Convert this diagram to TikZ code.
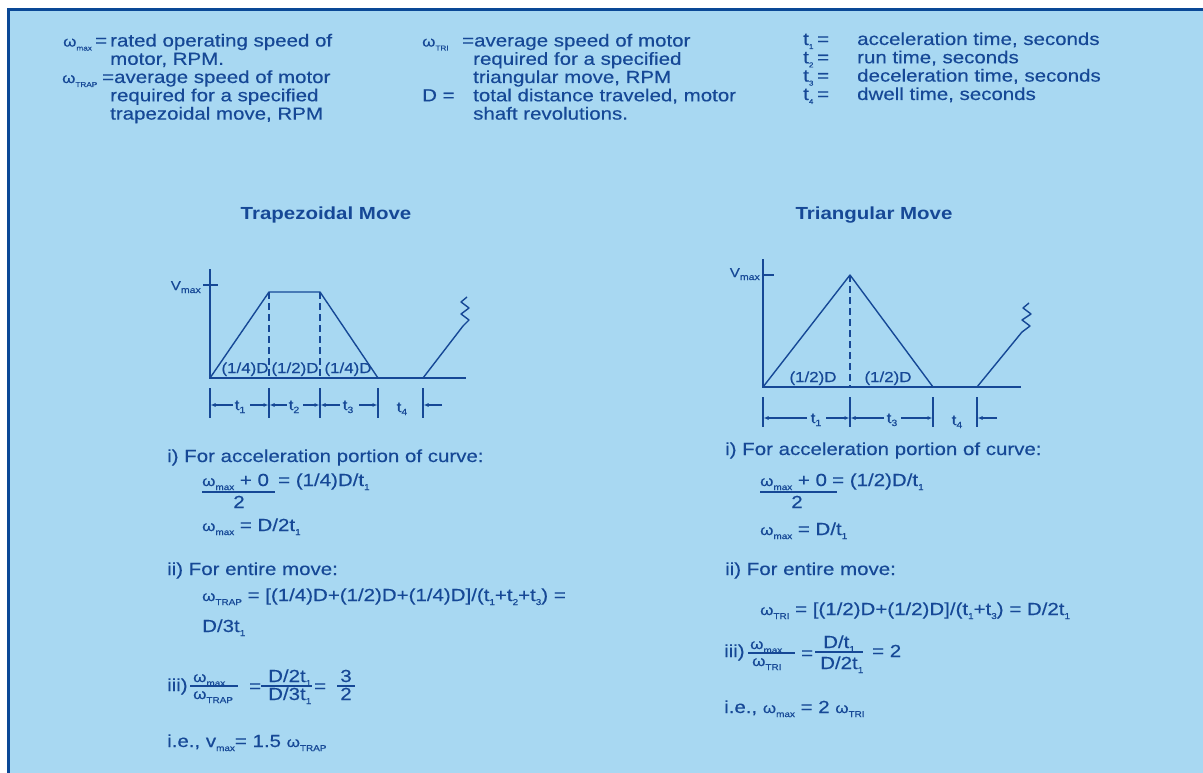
\documentclass[tikz,border=0pt]{standalone}
\usepackage{fontspec}
\setmainfont{Liberation Sans}[FakeStretch=1.17,UprightFeatures={FakeBold=0.35}]
\usetikzlibrary{arrows.meta}
\definecolor{bg}{RGB}{168,216,242}
\definecolor{ink}{RGB}{22,72,150}
\definecolor{frame}{RGB}{10,72,150}
\newcommand\bodyfont{\fontsize{17.5}{18.3}\selectfont}
\newcommand\gfont{\fontsize{14.5}{14.5}\selectfont}
\newcommand\om{{\fontsize{14.5}{14.5}\selectfont ω}}
\newcommand\sbs[1]{\raisebox{-4pt}{\fontsize{8.5}{8.5}\selectfont #1}}
\newcommand\lsb[1]{\raisebox{-4pt}{\fontsize{7}{7}\selectfont #1}}
\newcommand\gsb[1]{\raisebox{-3pt}{\fontsize{9}{9}\selectfont #1}}
\begin{document}
\begin{tikzpicture}[x=1pt,y=-1pt,
  txt/.style={anchor=base west,inner sep=0pt,text=ink,font=\bodyfont},
  ctxt/.style={anchor=base,inner sep=0pt,text=ink,font=\bodyfont},
  head/.style={anchor=base,inner sep=0pt,text=ink,font=\bodyfont\bfseries},
  glab/.style={anchor=base,inner sep=0pt,text=ink,font=\gfont},
  axisline/.style={draw=ink,line width=1.6pt},
  baseline/.style={draw=ink,line width=2.4pt},
  curve/.style={draw=ink,line width=1.4pt,line join=round},
  dashv/.style={draw=ink,line width=1.1pt,dash pattern=on 7pt off 4pt},
  extline/.style={draw=ink,line width=1.1pt},
  dimarr/.style={draw=ink,line width=1.1pt,-{Latex[length=5pt,width=4pt]}},
  fbar/.style={draw=ink,line width=1.1pt}]
\useasboundingbox (0,0) rectangle (1203,773);
\fill[white] (0,0) rectangle (1203,773);
\fill[bg] (9,10) rectangle (1203,773);
\draw[frame,line width=3.5pt] (8.5,773) -- (8.5,9.5) -- (1203,9.5);

% ---------- legend ----------
\node[txt] (wmax) at (63,46.5) {\om\lsb{max}};
\node[txt] (eqa) at (95,46.5) {=};
\node[txt] (la1) at (110,46.5) {rated operating speed of};
\node[txt] (la2) at (110,64.8) {motor, RPM.};
\node[txt] (wtrap) at (62,83) {\om\lsb{TRAP}};
\node[txt] (la3) at (102,83) {=average speed of motor};
\node[txt] (la4) at (110,101.3) {required for a specified};
\node[txt] (la5) at (110,119.6) {trapezoidal move, RPM};

\node[txt] (wtri) at (422,46.5) {\om\lsb{TRI}};
\node[txt] (lb1) at (462,46.5) {=average speed of motor};
\node[txt] (lb2) at (473,64.8) {required for a specified};
\node[txt] (lb3) at (473,83) {triangular move, RPM};
\node[txt] (dD) at (422,101.3) {D =};
\node[txt] (lb4) at (473,101.3) {total distance traveled, motor};
\node[txt] (lb5) at (473,119.6) {shaft revolutions.};

\node[txt] (ta) at (803,45) {t\lsb{1}};
\node[txt] (tae) at (817,45) {=};
\node[txt] (lc1) at (857,45) {acceleration time, seconds};
\node[txt] (tb) at (803,63.3) {t\lsb{2}};
\node[txt] (tbe) at (817,63.3) {=};
\node[txt] (lc2) at (857,63.3) {run time, seconds};
\node[txt] (tc) at (803,81.6) {t\lsb{3}};
\node[txt] (tce) at (817,81.6) {=};
\node[txt] (lc3) at (857,81.6) {deceleration time, seconds};
\node[txt] (td) at (803,100) {t\lsb{4}};
\node[txt] (tde) at (817,100) {=};
\node[txt] (lc4) at (857,100) {dwell time, seconds};

% ---------- headings ----------
\node[head] (h1) at (326,219) {Trapezoidal Move};
\node[head] (h2) at (874,219) {Triangular Move};

% ---------- trapezoidal graph ----------
\draw[axisline] (210,269) -- (210,378);
\draw[baseline] (209,378) -- (466,378);
\draw[axisline] (203,285) -- (218,285);
\node[anchor=base east,inner sep=0pt,text=ink,font=\fontsize{13}{13}\selectfont] (vm1) at (201,290) {V\gsb{max}};
\draw[curve] (210,378) -- (269,292) -- (320,292) -- (378,378);
\draw[dashv] (269,292) -- (269,378);
\draw[dashv] (320,292) -- (320,378);
\node[glab] (q1) at (245,373) {(1/4)D};
\node[glab] (q2) at (295,373) {(1/2)D};
\node[glab] (q3) at (348,373) {(1/4)D};
\draw[curve] (423,378) -- (463,326) -- (469,320) -- (461,314) -- (469,308) -- (461,302) -- (467,297);
% time dimensions
\foreach \x in {210,269,320,378,423} \draw[extline] (\x,388) -- (\x,418);
\node[glab] (t1a) at (240,410) {t\gsb{1}};
\node[glab] (t2a) at (294,410) {t\gsb{2}};
\node[glab] (t3a) at (348,410) {t\gsb{3}};
\node[glab] (t4a) at (402,412) {t\gsb{4}};
\draw[dimarr] (233,405) -- (210.5,405);
\draw[dimarr] (250,405) -- (268.5,405);
\draw[dimarr] (287,405) -- (269.5,405);
\draw[dimarr] (303,405) -- (319.5,405);
\draw[dimarr] (340,405) -- (320.5,405);
\draw[dimarr] (359,405) -- (377.5,405);
\draw[dimarr] (442,405) -- (423.5,405);

% ---------- triangular graph ----------
\draw[axisline] (763,259) -- (763,387);
\draw[baseline] (762,387) -- (1021,387);
\draw[axisline] (763,275) -- (774,275);
\node[anchor=base east,inner sep=0pt,text=ink,font=\fontsize{13}{13}\selectfont] (vm2) at (760,277) {V\gsb{max}};
\draw[curve] (763,387) -- (850,275) -- (933,387);
\draw[dashv] (850,275) -- (850,387);
\node[glab] (h1d) at (813,382) {(1/2)D};
\node[glab] (h2d) at (888,382) {(1/2)D};
\draw[curve] (977,387) -- (1022,332) -- (1030,326) -- (1022,320) -- (1031,314) -- (1023,308) -- (1029,303);
\foreach \x in {763,850,933,977} \draw[extline] (\x,397) -- (\x,427);
\node[glab] (t1b) at (816,423) {t\gsb{1}};
\node[glab] (t3b) at (892,423) {t\gsb{3}};
\node[glab] (t4b) at (957,425) {t\gsb{4}};
\draw[dimarr] (807,418) -- (763.5,418);
\draw[dimarr] (826,418) -- (849.5,418);
\draw[dimarr] (884,418) -- (850.5,418);
\draw[dimarr] (901,418) -- (932.5,418);
\draw[dimarr] (997,418) -- (977.5,418);

% ---------- left equations ----------
\node[txt] (e1) at (167,462) {i) For acceleration portion of curve:};
\node[txt] (e1n) at (202,486) {\om\sbs{max} + 0};
\draw[fbar] (202,492) -- (275,492);
\node[ctxt] (e1d) at (239,508) {2};
\node[txt] (e1r) at (278,486) {= (1/4)D/t\sbs{1}};
\node[txt] (e2) at (202,531) {\om\sbs{max} = D/2t\sbs{1}};
\node[txt] (e3) at (167,575) {ii) For entire move:};
\node[txt] (e4) at (202,601) {\om\sbs{TRAP} = [(1/4)D+(1/2)D+(1/4)D]/(t\sbs{1}+t\sbs{2}+t\sbs{3}) =};
\node[txt] (e5) at (202,632) {D/3t\sbs{1}};
\node[txt] (e6) at (167,691) {iii)};
\node[txt] (e6n) at (193,682) {\om\sbs{max}};
\draw[fbar] (190,686) -- (238,686);
\node[txt] (e6d) at (193,699) {\om\sbs{TRAP}};
\node[txt] (e6q) at (249,692) {=};
\node[txt] (e6n2) at (268,682) {D/2t\sbs{1}};
\draw[fbar] (261,686) -- (312,686);
\node[txt] (e6d2) at (268,700) {D/3t\sbs{1}};
\node[txt] (e6q2) at (314,692) {=};
\node[ctxt] (e6n3) at (346,682) {3};
\draw[fbar] (337,686) -- (355,686);
\node[ctxt] (e6d3) at (346,700) {2};
\node[txt] (e7) at (167,747) {i.e., v\sbs{max}= 1.5 \om\sbs{TRAP}};

% ---------- right equations ----------
\node[txt] (r1) at (725,455) {i) For acceleration portion of curve:};
\node[txt] (r1n) at (760,486) {\om\sbs{max} + 0};
\draw[fbar] (760,492) -- (837,492);
\node[ctxt] (r1d) at (797,508) {2};
\node[txt] (r1r) at (832,486) {= (1/2)D/t\sbs{1}};
\node[txt] (r2) at (760,535) {\om\sbs{max} = D/t\sbs{1}};
\node[txt] (r3) at (725,575) {ii) For entire move:};
\node[txt] (r4) at (760,615) {\om\sbs{TRI} = [(1/2)D+(1/2)D]/(t\sbs{1}+t\sbs{3}) = D/2t\sbs{1}};
\node[txt] (r5) at (724,657) {iii)};
\node[txt] (r5n) at (750,649) {\om\sbs{max}};
\draw[fbar] (748,653) -- (795,653);
\node[txt] (r5d) at (752,666) {\om\sbs{TRI}};
\node[txt] (r5q) at (801,659) {=};
\node[txt] (r5n2) at (823,648) {D/t\sbs{1}};
\draw[fbar] (815,652) -- (863,652);
\node[txt] (r5d2) at (820,669) {D/2t\sbs{1}};
\node[txt] (r5q2) at (872,657) {= 2};
\node[txt] (r6) at (724,713) {i.e., \om\sbs{max} = 2 \om\sbs{TRI}};
\end{tikzpicture}
\end{document}
